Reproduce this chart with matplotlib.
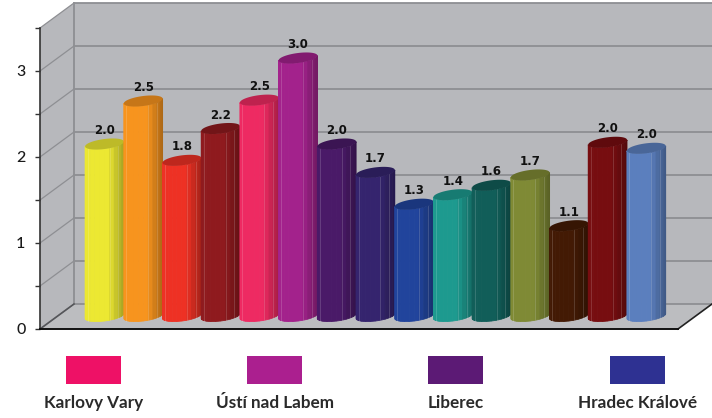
import numpy as np
import matplotlib
matplotlib.use("Agg")
import matplotlib.pyplot as plt
from matplotlib.colors import to_rgb
from matplotlib.patches import Rectangle

# data
values = [2.0, 2.5, 1.81, 2.18, 2.51, 3.0, 2.0, 1.67, 1.30, 1.41, 1.52, 1.64, 1.05, 2.02, 1.95]
value_labels = ["2.0", "2.5", "1.8", "2.2", "2.5", "3.0", "2.0", "1.7", "1.3", "1.4", "1.6", "1.7", "1.1", "2.0", "2.0"]
bar_colors = ["#ece832", "#f7941e", "#ee3124", "#8f1a1e", "#ee2a62", "#a3228c", "#4a1a68", "#35246e",
              "#21449c", "#1d9a8f", "#115e59", "#7f8a35", "#431a04", "#770d10", "#5b7fbe"]
legend_names = ["Karlovy Vary", "Ústí nad Labem", "Liberec", "Hradec Králové"]
legend_colors = ["#ee1166", "#ab1f8f", "#5c1a75", "#2e3192"]
y_ticks = [0, 1, 2, 3]

W, H = 712, 418
WALL = "#b7b8bc"
GRID = "#8e8f93"
DEPTH_X = 34 / 38.7   # depth of the 3d box, in category steps
DEPTH_Y = 25 / 86     # depth of the 3d box, in value units
Y_TOP = 3.5
BAR_BASE = 13 / 86    # bars stand in the middle of the floor
A = 19.4 / 38.7       # half width of a bar
TILT = 2.4 / 86       # rise of the ellipse toward its right end
B = 5.0 / 86          # half height of the ellipse

fig = plt.figure(figsize=(W / 100, H / 100), dpi=100, facecolor="white")
ax = fig.add_axes([40 / W, (H - 329) / H, 638 / W, 301 / H])
ax.set_facecolor("none")
x0, x1 = -64.5 / 38.7, (678 - 104.5) / 38.7
ax.set_xlim(x0, x1)
ax.set_ylim(0, Y_TOP)


def shade(color, k):
    return tuple(min(1, c * k) for c in to_rgb(color))


# box walls
bx0, bx1 = x0 + DEPTH_X, x1 + DEPTH_X
ax.fill([x0, bx0, bx0, x0], [0, DEPTH_Y, Y_TOP + DEPTH_Y, Y_TOP], color=WALL, lw=0, clip_on=False, zorder=0)
ax.fill([bx0, bx1, bx1, bx0], [DEPTH_Y, DEPTH_Y, Y_TOP + DEPTH_Y, Y_TOP + DEPTH_Y], color=WALL, lw=0, clip_on=False, zorder=0)
ax.fill([x0, x1, bx1, bx0], [0, 0, DEPTH_Y, DEPTH_Y], color="#bcbdc0", lw=0, clip_on=False, zorder=0)

for level in np.arange(0, Y_TOP + 0.01, 0.5):
    ax.plot([x0, bx0], [level, level + DEPTH_Y], color=GRID, lw=0.9, clip_on=False, zorder=1)
    ax.plot([bx0, bx1], [level + DEPTH_Y] * 2, color=GRID, lw=1.3, clip_on=False, zorder=1)
ax.plot([bx0, bx0], [DEPTH_Y, Y_TOP + DEPTH_Y], color=GRID, lw=1.3, clip_on=False, zorder=1)
ax.plot([x1, bx1], [0, DEPTH_Y], color="#222222", lw=1.2, clip_on=False, zorder=1)
ax.plot([x0, bx0], [0, DEPTH_Y], color="#55565a", lw=1.2, clip_on=False, zorder=1)

# cylinders, left to right so each one covers the edge of the previous
edges = np.linspace(np.pi, 2 * np.pi, 13)
for i, (v, color, lab) in enumerate(zip(values, bar_colors, value_labels)):
    base, top = BAR_BASE, BAR_BASE + v
    z = 3 + i * 0.01
    for j in range(len(edges) - 1):
        t = np.linspace(edges[j], edges[j + 1], 5)
        xs = i + A * np.cos(t)
        front = TILT * np.cos(t) + B * np.sin(t)
        frac = (np.cos(edges[j]) + np.cos(edges[j + 1])) / 4 + 0.5
        k = 1.0 if frac < 0.6 else 1.0 - 0.3 * (frac - 0.6) / 0.4
        poly_x = np.r_[xs, xs[::-1]]
        poly_y = np.r_[base + front, (top + front)[::-1]]
        c = shade(color, k)
        ax.fill(poly_x, poly_y, facecolor=c, edgecolor=c, lw=0.6, clip_on=False, zorder=z)
    for j in (2, 7, 9):
        xl = i + A * np.cos(edges[j])
        fl = TILT * np.cos(edges[j]) + B * np.sin(edges[j])
        ax.plot([xl, xl], [base + fl, top + fl], color="white", alpha=0.18, lw=0.6, clip_on=False, zorder=z + 0.001)
    t = np.linspace(0, 2 * np.pi, 60)
    ax.fill(i + A * np.cos(t), top + TILT * np.cos(t) + B * np.sin(t),
            color=shade(color, 0.8), lw=0, clip_on=False, zorder=z + 0.002)
    ax.annotate(lab, (i, top), xytext=(0, 7), textcoords="offset pixels", ha="center", va="bottom",
                fontsize=8.5, fontweight="bold", color="#111111", zorder=5, annotation_clip=False)

# axis lines and ticks
for side in ("top", "right"):
    ax.spines[side].set_visible(False)
ax.spines["left"].set_color("#333333")
ax.spines["bottom"].set_color("#111111")
ax.spines["left"].set_linewidth(1.2)
ax.spines["bottom"].set_linewidth(1.4)
ax.set_xticks([])
ax.set_yticks(y_ticks)
ax.set_yticks(np.arange(0.5, Y_TOP + 0.01, 1), minor=True)
ax.tick_params(axis="y", which="both", length=3.5, width=1, color="#333333")
ax.tick_params(axis="y", which="major", labelsize=11.5, pad=7, labelcolor="#1a1a1a")
for tick in ax.get_yticklabels():
    tick.set_fontfamily("Lato")
    tick.set_fontweight("medium")

# legend row under the chart
for name, color, px in zip(legend_names, legend_colors, [66, 247, 428, 610]):
    fig.add_artist(Rectangle((px / W, (H - 384) / H), 55 / W, 28 / H, transform=fig.transFigure,
                             facecolor=color, edgecolor="none"))
    fig.text((px + 27.5) / W, (H - 403) / H, name, ha="center", va="center", fontsize=12.3,
             family="Lato", fontweight="bold", color="#2a2a2a")

fig.savefig("out.png", dpi=100)
